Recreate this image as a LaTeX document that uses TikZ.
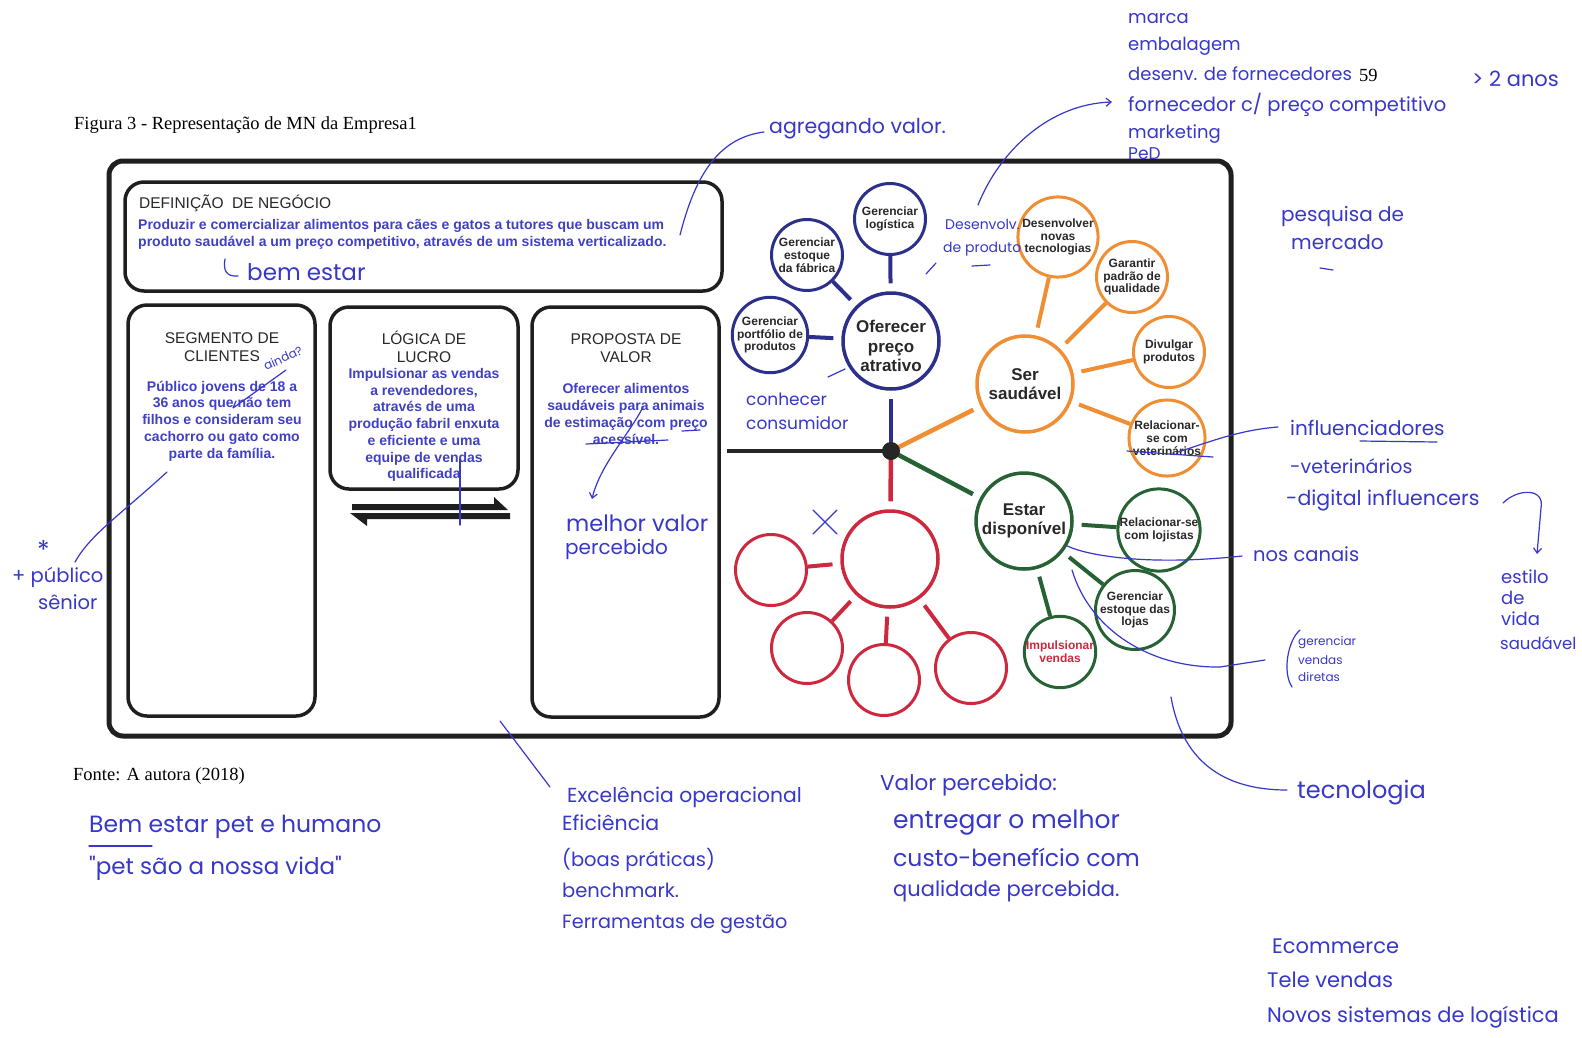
\documentclass[tikz,border=0pt]{standalone}
\usepackage{fontspec}
\setmainfont{Liberation Serif}
\newfontfamily\arial{Liberation Sans}
\newfontfamily\hand{Poppins}
\usetikzlibrary{arrows.meta}

\definecolor{navy}{RGB}{44,48,138}
\definecolor{orng}{RGB}{240,142,52}
\definecolor{grn}{RGB}{38,98,52}
\definecolor{crim}{RGB}{205,40,62}
\definecolor{printblue}{RGB}{64,64,196}
\definecolor{pen}{RGB}{55,55,202}
\definecolor{ink}{RGB}{40,40,40}

\newcommand{\hsz}[1]{\hand\fontsize{#1}{#1}\selectfont}

\tikzset{
  frame/.style={draw=black!88, line width=5pt, rounded corners=14pt},
  panel/.style={draw=black!88, line width=3.5pt, rounded corners=19pt},
  title/.style={font=\arial\fontsize{15.5}{18}\selectfont, text=ink, align=center, inner sep=0},
  body/.style={font=\arial\bfseries\fontsize{14}{16.7}\selectfont, text=printblue, align=center, inner sep=0},
  bigfont/.style={font=\arial\bfseries\fontsize{17}{19.5}\selectfont, text=ink, align=center, inner sep=0},
  bigc/.style={circle, minimum size=96pt, line width=3.5pt, bigfont},
  smallc/.style={circle, minimum size=71pt, line width=3pt, inner sep=0, align=center,
               font=\arial\bfseries\fontsize{12}{12.8}\selectfont, text=ink},
  spoke/.style={line width=4pt, shorten >=8pt},
  hubline/.style={line width=4.5pt, shorten >=8pt},
  print/.style={font=\fontsize{18.5}{22}\selectfont, anchor=west, inner sep=0},
  hw/.style={font=\hsz{19.5}, text=pen, anchor=west, inner sep=0},
  hwsmall/.style={hw, font=\hsz{14}},
  hwtiny/.style={hw, font=\hsz{12}},
  penline/.style={draw=pen, line width=1.2pt, line cap=round, line join=round},
  penarrow/.style={penline, -{Straight Barb[length=5pt,width=8pt]}},
}

\begin{document}
\begin{tikzpicture}[x=1pt,y=-1pt]
\useasboundingbox[fill=white] (0,0) rectangle (1582,1037);

% ---------- printed captions ----------
\node[print] (cap) at (74,125) {Figura 3 - Representação de MN da Empresa1};
\node[print] (fonte) at (73,776) {Fonte: A autora (2018)};
\node[print] (pgno) at (1359,75) {59};

% ---------- frames ----------
\draw[frame] (109,161) rectangle (1231,736);
\draw[panel] (125,182) rectangle (722,291);
\draw[panel] (128,305) rectangle (315,716);
\draw[panel] (330,307) rectangle (518,489);
\draw[panel] (532,307) rectangle (719,717);

% ---------- business definition ----------
\node[title, anchor=west] (deft) at (139,203) {DEFINIÇÃO\ \ DE NEGÓCIO};
\node[body, anchor=north west, align=left] (defb) at (138,219)
  {Produzir e comercializar alimentos para cães e gatos a tutores que buscam um\\
   produto saudável a um preço competitivo, através de um sistema verticalizado.};

% ---------- three columns ----------
\node[title] (segt1) at (222,338) {SEGMENTO DE};
\node[title] (segt2) at (222,356) {CLIENTES};
\node[body] (segb) at (222,421) {Público jovens de 18 a\\36 anos que não tem\\filhos e consideram seu\\cachorro ou gato como\\parte da família.};

\node[title] (logt) at (424,347) {LÓGICA DE\\LUCRO};
\node[body] (logb) at (424,425) {Impulsionar as vendas\\a revendedores,\\através de uma\\produção fabril enxuta\\e eficiente e uma\\equipe de vendas\\qualificada};

\node[title] (prot) at (626,348) {PROPOSTA DE\\VALOR};
\node[body] (prob) at (626,414) {Oferecer alimentos\\saudáveis para animais\\de estimação com preço\\acessível.};

% exchange arrows under the profit logic
\fill[black!88] (352,504) -- (494,504) -- (494,497) -- (508,510) -- (352,510) -- cycle;
\fill[black!88] (510,513) -- (510,519) -- (367,519) -- (367,526) -- (350,513) -- cycle;

% ---------- strategy wheel ----------
\node[bigc, draw=navy] (ofer) at (891,341) {};
\node[bigfont] (ofert) at ([yshift=-5pt]ofer.center) {Oferecer\\preço\\atrativo};
\node[smallc, draw=navy] (logi) at (890,219) {Gerenciar\\logística};
\node[smallc, draw=navy] (estf) at (807,255) {Gerenciar\\estoque\\da fábrica};
\node[smallc, draw=navy] (port) at (770,335) {Gerenciar\\portfólio de\\produtos};

\node[bigc, draw=orng] (saud) at (1025,384) {Ser\\saudável};
\node[smallc, draw=orng] (tecn) at (1058,237) {Desenvolver\\novas\\tecnologias};
\node[smallc, draw=orng] (qual) at (1132,277) {Garantir\\padrão de\\qualidade};
\node[smallc, draw=orng] (divu) at (1169,352) {Divulgar\\produtos};
\node[smallc, draw=orng] (vete) at (1167,438) {Relacionar-\\se com\\veterinários};

\node[bigc, draw=grn] (disp) at (1024,521) {Estar\\disponível};
\node[smallc, draw=grn] (loji) at (1159,530) {Relacionar-se\\com lojistas};
\node[smallc, draw=grn] (estl) at (1135,610) {Gerenciar\\estoque das\\lojas};
\node[smallc, draw=grn, text=crim] (impu) at (1060,652) {Impulsionar\\vendas};

\node[bigc, draw=crim] (red0) at (890,559) {};
\node[smallc, draw=crim] (red1) at (771,570) {};
\node[smallc, draw=crim] (red2) at (807,648) {};
\node[smallc, draw=crim] (red3) at (884,680) {};
\node[smallc, draw=crim] (red4) at (971,668) {};

\coordinate (hubc) at (891,451);
\coordinate (lend) at (727,451);

\draw[spoke, navy] (logi) -- (ofer);
\draw[spoke, navy] (estf) -- (ofer);
\draw[spoke, navy] (port) -- (ofer);
\draw[spoke, orng] (tecn) -- (saud);
\draw[spoke, orng] (qual) -- (saud);
\draw[spoke, orng] (divu) -- (saud);
\draw[spoke, orng] (vete) -- (saud);
\draw[spoke, grn] (loji) -- (disp);
\draw[spoke, grn] (estl) -- (disp);
\draw[spoke, grn] (impu) -- (disp);
\draw[spoke, crim] (red1) -- (red0);
\draw[spoke, crim] (red2) -- (red0);
\draw[spoke, crim] (red3) -- (red0);
\draw[spoke, crim] (red4) -- (red0);

\draw[line width=4pt, black!85] (lend) -- (hubc);
\draw[hubline, navy] (hubc) -- (ofer);
\draw[hubline, orng] (hubc) -- (saud);
\draw[hubline, grn] (hubc) -- (disp);
\draw[hubline, crim] (hubc) -- (red0);
\node[circle, fill=black!85, minimum size=18pt, inner sep=0] (hub) at (hubc) {};

% ---------- pen notes: top right ----------
\node[hw, font=\hsz{18}] (n1) at (1128,19) {marca};
\node[hw, font=\hsz{18}] (n2) at (1128,46) {embalagem};
\node[hw, font=\hsz{18}] (n3) at (1128,74) {desenv. de fornecedores};
\node[hw] (n4) at (1128,105) {fornecedor c/ preço competitivo};
\node[hw, font=\hsz{18}] (n5) at (1128,134) {marketing};
\node[hw, font=\hsz{17}] (n6) at (1128,154) {PeD};
\node[hw, font=\hsz{21}] (n7) at (1472,79) {> 2 anos};

\node[hw, font=\hsz{20.5}] (agreg) at (769,129) {agregando valor.};
\draw[penline] (680,235) .. controls (694,180) and (716,138) .. (764,132);

\node[hwsmall] (desv1) at (945,224) {Desenvolv.};
\node[hwsmall] (desv2) at (943,249) {de produto};
\coordinate (dv0) at (978,205);
\coordinate (dv1) at (1112,102);
\draw[penarrow] (dv0) .. controls (1000,150) and (1050,104) .. (dv1);
\draw[penline] (972,266) -- (990,265);
\draw[penline] (926,274) -- (936,263);

\node[hw, font=\hsz{17}] (conh1) at (746,399) {conhecer};
\node[hw, font=\hsz{17}] (conh2) at (746,423) {consumidor};
\draw[penline] (828,377) -- (845,369);

\node[hw, font=\hsz{20}] (pesq1) at (1281,216) {pesquisa de};
\node[hw, font=\hsz{20}] (pesq2) at (1291,242) {mercado};
\draw[penline] (1320,268) -- (1333,270);

% ---------- pen notes: right side ----------
\node[hw, font=\hsz{20}] (infl) at (1290,428) {influenciadores};
\draw[penline] (1360,441) -- (1437,442);
\draw[penline] (1278,427) .. controls (1240,430) and (1212,441) .. (1178,452);
\draw[penline] (1127,451) -- (1213,457);
\node[hw, font=\hsz{19}] (vet) at (1290,466) {-veterinários};
\node[hw, font=\hsz{20.5}] (dig) at (1286,500) {-digital influencers};
\coordinate (br0) at (1503,503);
\coordinate (br1) at (1537,554);
\draw[penarrow] (br0) .. controls (1518,488) and (1545,488) .. (1541,508) -- (br1);
\node[hw, font=\hsz{18}] (est1) at (1501,577) {estilo};
\node[hw, font=\hsz{18}] (est2) at (1501,598) {de};
\node[hw, font=\hsz{18}] (est3) at (1501,619) {vida};
\node[hw, font=\hsz{16.5}] (est4) at (1500,643) {saudável};

\node[hw, font=\hsz{19.5}] (canais) at (1253,554) {nos canais};
\draw[penline] (disp.-30) .. controls (1088,556) and (1150,566) .. (1242,556);

\node[hwtiny] (gv1) at (1298,643) {gerenciar};
\node[hwtiny] (gv2) at (1298,660) {vendas};
\node[hwtiny] (gv3) at (1298,677) {diretas};
\draw[penline] (1300,630) .. controls (1288,640) and (1282,672) .. (1292,687);
\draw[penline] (1072,570) .. controls (1090,630) and (1150,668) .. (1220,667) -- (1265,660);

\node[hw, font=\hsz{24}] (tec) at (1297,793) {tecnologia};
\draw[penline] (1171,697) .. controls (1182,760) and (1222,790) .. (1287,790);

% ---------- pen notes inside the panels ----------
\draw[penline] (225,259) .. controls (223,270) and (226,277) .. (238,276);
\node[hw, font=\hsz{23}] (bem) at (247,272) {bem estar};

\node[hwtiny, rotate=25, anchor=center] (ainda) at (283,358) {ainda?};
\draw[penline] (286,370) -- (233,408) -- (236,401);

\draw[penline] (460,459) -- (460,525);

\draw[penline] (586,444) -- (668,440);
\draw[penline] (682,431) -- (700,430);
\draw[penarrow] (643,407) .. controls (630,433) and (600,465) .. (592,499);
\node[hw, font=\hsz{22.5}] (melh1) at (566,523) {melhor valor};
\node[hw, font=\hsz{20}] (melh2) at (565,549) {percebido};

\draw[penline] (813,510) -- (837,534);
\draw[penline] (837,510) -- (813,534);

% ---------- pen notes: left and bottom ----------
\node[hw, font=\hsz{26}] (ast) at (37,550) {*};
\node[hw] (pub1) at (12,577) {+ público};
\node[hw] (pub2) at (38,602) {sênior};
\draw[penline] (167,472) .. controls (120,515) and (90,535) .. (75,562);

\node[hw, font=\hsz{23.5}] (bep1) at (89,827) {Bem estar pet e humano};
\draw[penline] (89,846) -- (152,846);
\node[hw, font=\hsz{23}] (bep2) at (89,868) {"pet são a nossa vida"};

\draw[penline] (500,721) -- (550,787);
\node[hw, font=\hsz{20.3}] (ex1) at (567,797) {Excelência operacional};
\node[hw, font=\hsz{20.5}] (ex2) at (562,823) {Eficiência};
\node[hw] (ex3) at (562,860) {(boas práticas)};
\node[hw] (ex4) at (562,890) {benchmark.};
\node[hw, font=\hsz{19.2}] (ex5) at (562,924) {Ferramentas de gestão};

\node[hw, font=\hsz{21.5}] (vp1) at (880,785) {Valor percebido:};
\node[hw, font=\hsz{25}] (vp2) at (893,823) {entregar o melhor};
\node[hw, font=\hsz{23.5}] (vp3) at (893,857) {custo-benefício com};
\node[hw, font=\hsz{21}] (vp4) at (893,891) {qualidade percebida.};

\node[hw, font=\hsz{21}] (ec1) at (1272,946) {Ecommerce};
\node[hw, font=\hsz{21}] (ec2) at (1267,980) {Tele vendas};
\node[hw, font=\hsz{21}] (ec3) at (1267,1017) {Novos sistemas de logística};
\end{tikzpicture}
\end{document}
